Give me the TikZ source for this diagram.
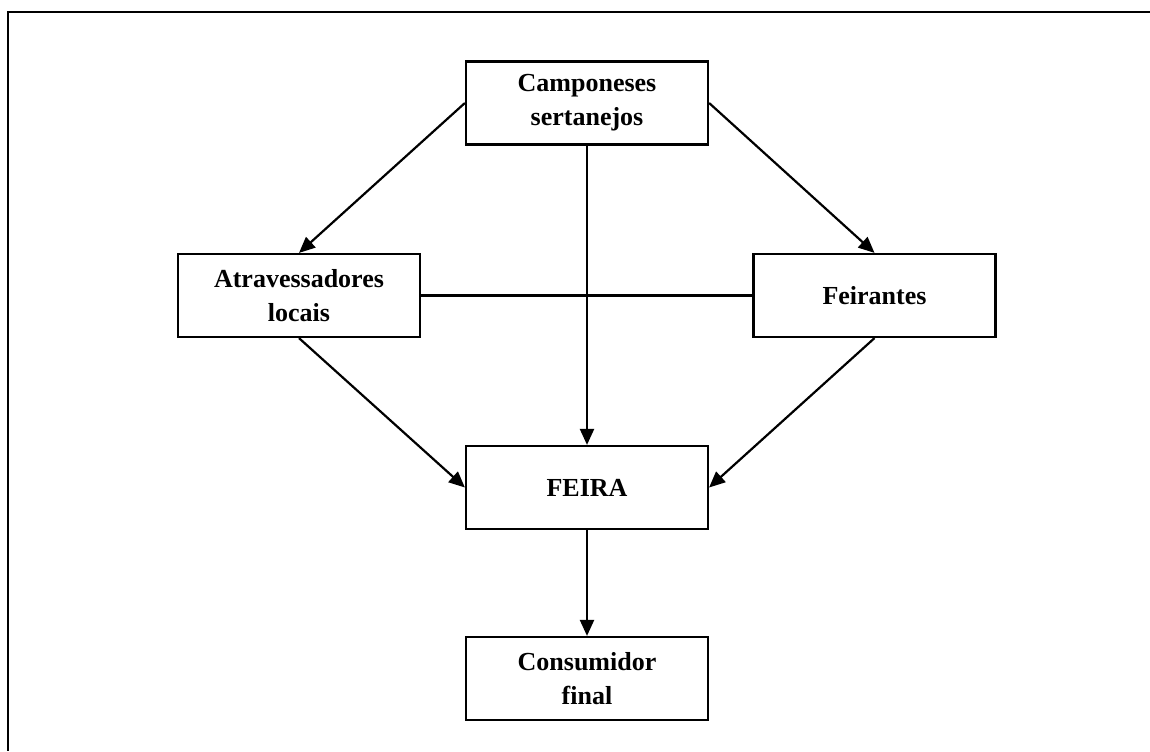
\documentclass[tikz,border=0pt]{standalone}
\usepackage{fontspec}
\setmainfont{Liberation Serif}
\usepackage{tikz}
\usetikzlibrary{arrows.meta}
\tikzset{every picture/.style={line width=1.1pt}}

\begin{document}
\begin{tikzpicture}[x=.5pt,y=.5pt,
 caixa/.style={draw,line width=1.1pt,minimum width=121pt,minimum height=41.5pt,
  align=center,font=\fontsize{13}{17}\selectfont\bfseries,inner sep=2pt},
 seta/.style={-{Triangle[length=8pt,width=7pt]},line width=1.1pt}]
 \useasboundingbox (0,0) rectangle (1150,751);
 \draw[line width=1.4pt] (1150,739) -| (8,0);
 \node[caixa] (camponeses) at (587,648) {Camponeses\\sertanejos};
 \node[caixa] (atravessadores) at (299,455.5) {Atravessadores\\locais};
 \node[caixa] (feirantes) at (874.5,455.5) {Feirantes};
 \node[caixa] (feira) at (587,263.5) {FEIRA};
 \node[caixa] (consumidor) at (587,72.5) {Consumidor\\final};
 \draw (atravessadores.east) -- (feirantes.west);
 \draw[seta] (camponeses.west) -- (atravessadores.north);
 \draw[seta] (camponeses.east) -- (feirantes.north);
 \draw[seta] (camponeses.south) -- (feira.north);
 \draw[seta] (atravessadores.south) -- (feira.west);
 \draw[seta] (feirantes.south) -- (feira.east);
 \draw[seta] (feira.south) -- (consumidor.north);
\end{tikzpicture}
\end{document}
